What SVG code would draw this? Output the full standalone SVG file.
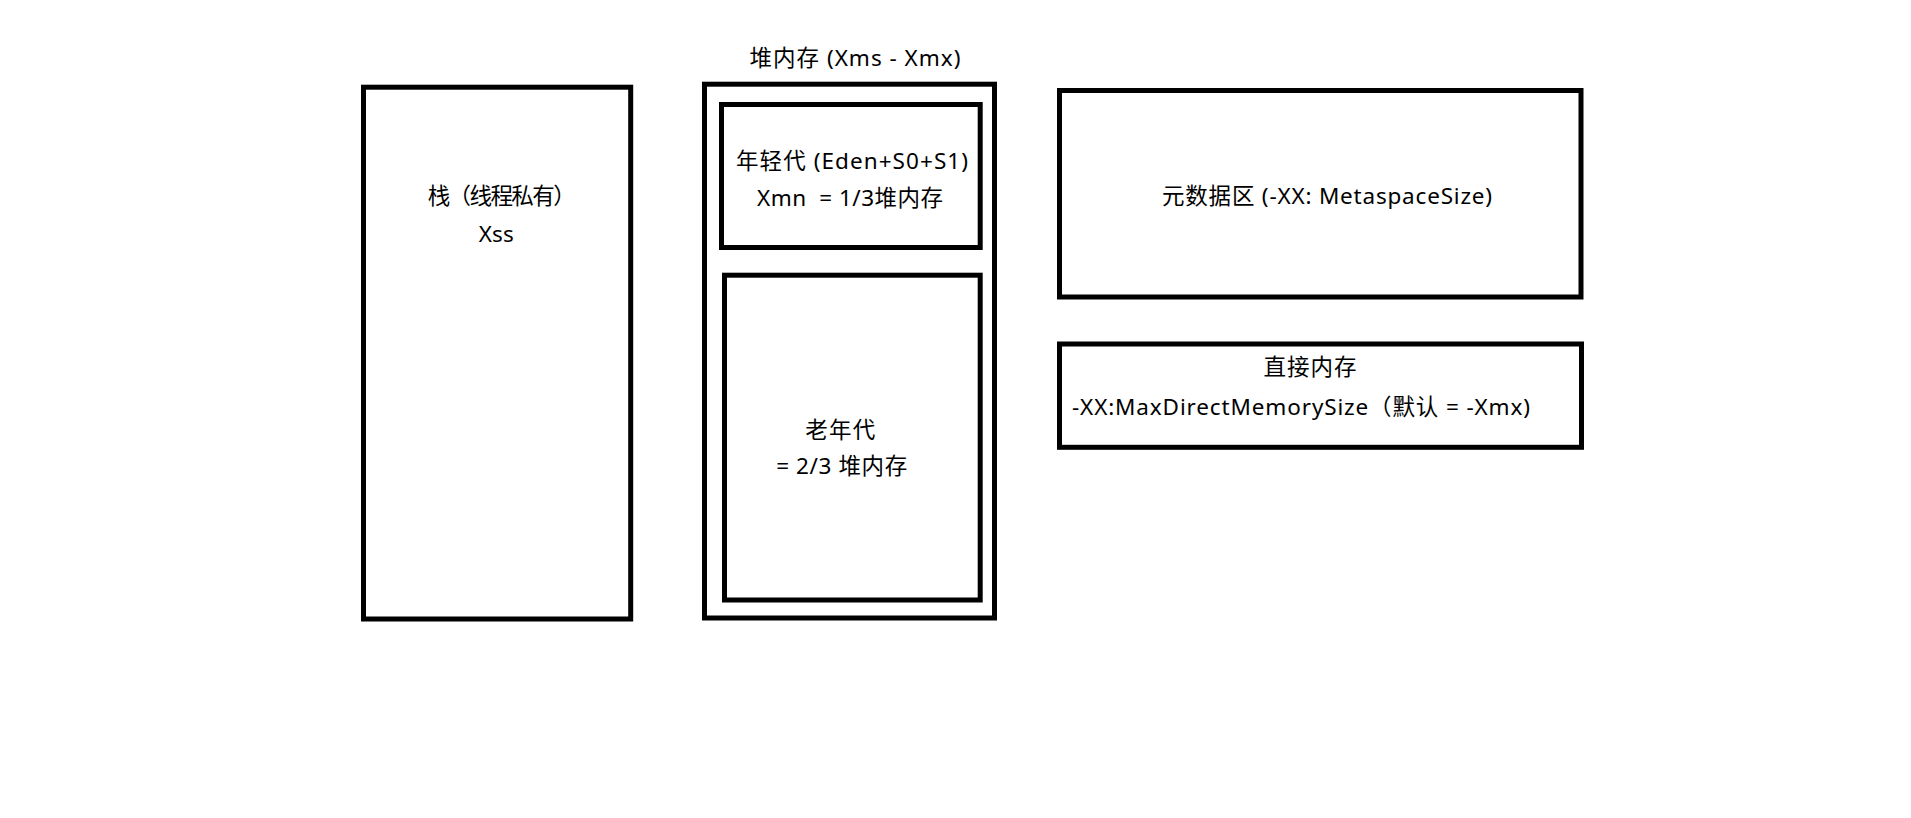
<svg xmlns="http://www.w3.org/2000/svg" width="1911" height="818" viewBox="0 0 1911 818">
<style>
.box{fill:#fff;stroke:#000;stroke-width:5}
.t{font-family:"Noto Sans","Noto Sans CJK SC",sans-serif;font-size:22.5px;fill:#000;text-anchor:middle;white-space:pre}
.l{text-anchor:start}
</style>
<rect width="1911" height="818" fill="#fff"/>
<g id="stack">
<rect class="box" x="363.5" y="87.2" width="267.2" height="531.8"/>
<text class="t" x="501.7" y="204.3" textLength="148">栈（线程私有）</text>
<text class="t" x="496.3" y="241.7" textLength="35">Xss</text>
</g>
<g id="heap">
<rect class="box" x="704.5" y="84.2" width="290" height="533.8"/>
<text class="t" x="855" y="66" textLength="211">堆内存 (Xms - Xmx)</text>
</g>
<g id="young">
<rect class="box" x="721.5" y="104.5" width="258.7" height="143"/>
<text class="t" x="852" y="169" textLength="232">年轻代 (Eden+S0+S1)</text>
<text class="t" x="850" y="205.5" textLength="186" xml:space="preserve">Xmn  = 1/3堆内存</text>
</g>
<g id="old">
<rect class="box" x="724.5" y="275.2" width="255.7" height="324.8"/>
<text class="t" x="840.3" y="438" textLength="70">老年代</text>
<text class="t" x="841.7" y="474" textLength="131">= 2/3 堆内存</text>
</g>
<g id="metaspace">
<rect class="box" x="1059.5" y="90.5" width="521.5" height="206.5"/>
<text class="t" x="1327" y="204" textLength="330">元数据区 (-XX: MetaspaceSize)</text>
</g>
<g id="direct">
<rect class="box" x="1059.5" y="344" width="522" height="103.3"/>
<text class="t" x="1310" y="375" textLength="93">直接内存</text>
<text class="t l" x="1072" y="415" textLength="458">-XX:MaxDirectMemorySize（默认 = -Xmx)</text>
</g>
<g id="connectors"></g>
</svg>
